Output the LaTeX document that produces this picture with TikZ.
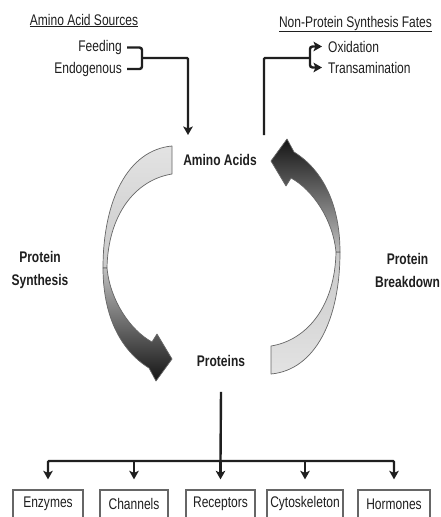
\documentclass[tikz,border=0pt]{standalone}
\usepackage{fontspec}
\setmainfont[FakeStretch=0.78]{Liberation Sans}
\usetikzlibrary{arrows.meta}
\begin{document}
\begin{tikzpicture}[x=1pt,y=-1pt,
  txt/.style={font=\fontsize{15.4}{17}\selectfont, text=black!88, inner sep=0pt},
  btxt/.style={font=\fontsize{15.4}{23}\selectfont\bfseries, text=black!88, inner sep=0pt, align=center},
  conn/.style={line width=2.4pt, draw=black!88, rounded corners=2.5pt},
  arr/.style={conn, -{Stealth[length=8.5pt,width=9.5pt,inset=2pt]}},
  boxn/.style={draw=black!60, line width=1.3pt, minimum height=28pt, inner sep=0pt,
    font=\fontsize{15.4}{17}\selectfont, text=black!88},
  ribout/.style={draw=black!60, line width=0.7pt, line join=round},
]
\useasboundingbox (0,0) rectangle (441,517);
\fill[white] (0,0) rectangle (441,517);

% headings
\node[txt, anchor=base] (src) at (84,25) {\underline{Amino Acid Sources}};
\node[txt, anchor=base] (fates) at (355.5,27) {\underline{Non-Protein Synthesis Fates}};

% sources
\node[txt, anchor=base east] (fd) at (122,51.5) {Feeding};
\node[txt, anchor=base east] (en) at (122,73) {Endogenous};
% fates
\node[txt, anchor=base west] (ox) at (328,52) {Oxidation};
\node[txt, anchor=base west] (tr) at (328,73) {Transamination};

% main nodes
\node[btxt] (aa) at (220,160) {Amino Acids};
\node[btxt] (pr) at (221,361) {Proteins};
\node[btxt] (ps) at (40,270) {Protein\\Synthesis};
\node[btxt] (pb) at (407.5,270) {Protein\\Breakdown};

% connectors top-left
\coordinate (br) at (142,58);
\coordinate (aain) at (188,135);
\draw[conn] ([xshift=5pt]fd.east) -| (br) |- ([xshift=5pt]en.east);
\draw[arr, rounded corners=1pt] (br) -| (aain);

% connectors top-right
\coordinate (aaout) at (264,135);
\coordinate (fork) at (310,58);
\draw[conn, rounded corners=1pt] (aaout) |- (fork);
\draw[arr] (fork) |- ([xshift=-6pt]ox.west);
\draw[arr] (fork) |- ([xshift=-6pt]tr.west);

% ribbons - left (synthesis)
\path[ribout, top color=gray!22, bottom color=gray!42]
  (172,146) .. controls (128,150) and (103,200) .. (103,268)
  -- (107,268) .. controls (108,215) and (135,180) .. (172,174) -- cycle;
\path[ribout, top color=gray!50, bottom color=black!92]
  (103,268) .. controls (103,315) and (120,350) .. (149,368)
  -- (156,381) -- (172,359) -- (157,334) -- (152,342)
  .. controls (130,330) and (110,300) .. (107,268) -- cycle;

% ribbons - right (breakdown)
\path[ribout, top color=gray!42, bottom color=gray!22]
  (271,374) .. controls (315,370) and (340,320) .. (340,252)
  -- (336,252) .. controls (335,305) and (308,340) .. (271,346) -- cycle;
\path[ribout, top color=black!92, bottom color=gray!50]
  (340,252) .. controls (340,205) and (323,170) .. (294,152)
  -- (287,139) -- (271,161) -- (286,186) -- (291,178)
  .. controls (313,190) and (333,220) .. (336,252) -- cycle;

% bottom boxes
\node[boxn, minimum width=70pt] (b1) at (48,504) {Enzymes};
\node[boxn, minimum width=68pt] (b2) at (134,504) {Channels};
\node[boxn, minimum width=69pt] (b3) at (220.5,504) {Receptors};
\node[boxn, minimum width=76pt] (b4) at (305,504) {Cytoskeleton};
\node[boxn, minimum width=72pt] (b5) at (394,504) {Hormones};

\coordinate (bus) at (220.5,461);
\draw[conn] ([yshift=-25pt]pr.south) -- (bus);
\draw[arr, rounded corners=1pt, shorten >=10pt] (bus) -| (b1.north);
\draw[arr, rounded corners=1pt, shorten >=10pt] (bus) -| (b5.north);
\draw[arr, shorten >=10pt] (b2.north |- bus) -- (b2.north);
\draw[arr, shorten >=10pt] (bus) -- (b3.north);
\draw[arr, shorten >=10pt] (b4.north |- bus) -- (b4.north);
\end{tikzpicture}
\end{document}
